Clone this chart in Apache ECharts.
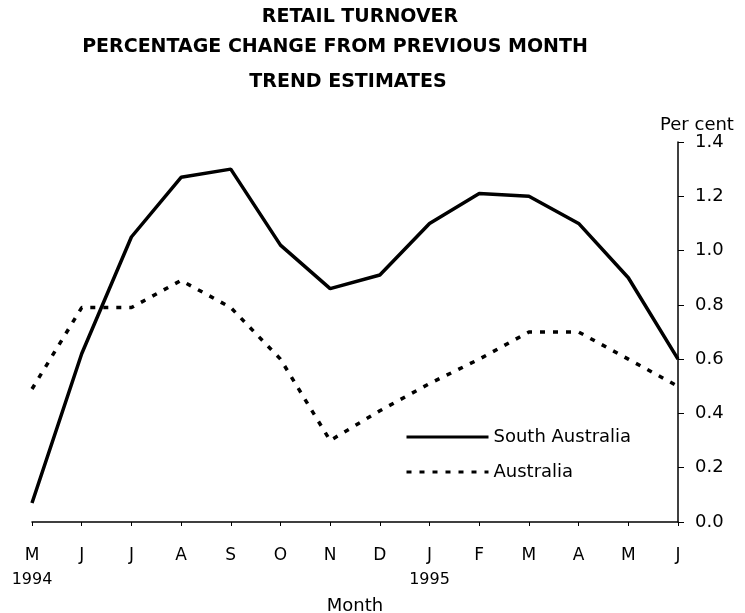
<!DOCTYPE html>
<html>
<head>
<meta charset="utf-8">
<script src="https://cdn.jsdelivr.net/npm/echarts@6/dist/echarts.min.js"></script>
<style>
  html, body { margin: 0; padding: 0; background: #fff; }
  #chart { width: 745px; height: 613px; }
</style>
</head>
<body>
<div id="chart"></div>
<script>
// months May 1994 .. June 1995
const months = ['M', 'J', 'J', 'A', 'S', 'O', 'N', 'D', 'J', 'F', 'M', 'A', 'M', 'J'];
const years = { 0: '1994', 8: '1995' };
const southAustralia = [0.07, 0.62, 1.05, 1.27, 1.30, 1.02, 0.86, 0.91, 1.10, 1.21, 1.20, 1.10, 0.90, 0.60];
const australia = [0.49, 0.79, 0.79, 0.89, 0.79, 0.60, 0.30, 0.41, 0.51, 0.60, 0.70, 0.70, 0.60, 0.50];
const titleLines = ['RETAIL TURNOVER', 'PERCENTAGE CHANGE FROM PREVIOUS MONTH', 'TREND ESTIMATES'];

const font = 'DejaVu Sans';
const chart = echarts.init(document.getElementById('chart'), null, { renderer: 'canvas' });

const option = {
  backgroundColor: '#fff',
  animation: false,
  textStyle: { fontFamily: font, color: '#000' },
  graphic: [
    { type: 'text', x: 360, y: 17, style: { text: titleLines[0], font: 'bold 19px "DejaVu Sans"', fill: '#000', align: 'center', verticalAlign: 'middle' } },
    { type: 'text', x: 335, y: 47, style: { text: titleLines[1], font: 'bold 19px "DejaVu Sans"', fill: '#000', align: 'center', verticalAlign: 'middle' } },
    { type: 'text', x: 348, y: 82, style: { text: titleLines[2], font: 'bold 19px "DejaVu Sans"', fill: '#000', align: 'center', verticalAlign: 'middle' } },
    { type: 'text', x: 697, y: 125, style: { text: 'Per cent', font: '18px "DejaVu Sans"', fill: '#000', align: 'center', verticalAlign: 'middle' } }
  ],
  legend: {
    orient: 'vertical',
    left: 400,
    top: 423,
    itemWidth: 82,
    itemHeight: 20,
    itemGap: 17,
    itemStyle: { opacity: 0 },
    lineStyle: { width: 3 },
    textStyle: { fontFamily: font, fontSize: 18, color: '#000' },
    data: ['South Australia', 'Australia']
  },
  grid: { left: 32, right: 67, top: 142, bottom: 91, containLabel: false, outerBoundsMode: 'none' },
  xAxis: {
    type: 'category',
    data: months,
    boundaryGap: false,
    name: 'Month',
    nameLocation: 'middle',
    nameGap: 72,
    nameTextStyle: { fontFamily: font, fontSize: 18, color: '#000' },
    axisLine: { lineStyle: { color: '#000', width: 1.5 } },
    axisTick: { show: true, length: 4, lineStyle: { color: '#000' } },
    axisLabel: {
      interval: 0,
      margin: 21,
      fontFamily: font,
      fontSize: 17,
      color: '#000',
      lineHeight: 25,
      formatter: function (v, i) {
        return years[i] ? v + '\n{y|' + years[i] + '}' : v;
      },
      rich: { y: { fontFamily: font, fontSize: 16, color: '#000', lineHeight: 24 } }
    },
    splitLine: { show: false }
  },
  yAxis: {
    type: 'value',
    position: 'right',
    min: 0,
    max: 1.4,
    interval: 0.2,
    axisLine: { show: true, lineStyle: { color: '#000', width: 1.5 } },
    axisTick: { show: true, length: 6, lineStyle: { color: '#000' } },
    axisLabel: {
      margin: 17,
      fontFamily: font,
      fontSize: 18,
      color: '#000',
      formatter: v => v.toFixed(1)
    },
    splitLine: { show: false }
  },
  series: [
    {
      name: 'South Australia',
      type: 'line',
      data: southAustralia,
      symbol: 'none',
      color: '#000',
      lineStyle: { color: '#000', width: 3.5 }
    },
    {
      name: 'Australia',
      type: 'line',
      data: australia,
      symbol: 'none',
      color: '#000',
      lineStyle: { color: '#000', width: 3.5, type: [5, 8] }
    }
  ]
};

chart.setOption(option);
</script>
</body>
</html>
